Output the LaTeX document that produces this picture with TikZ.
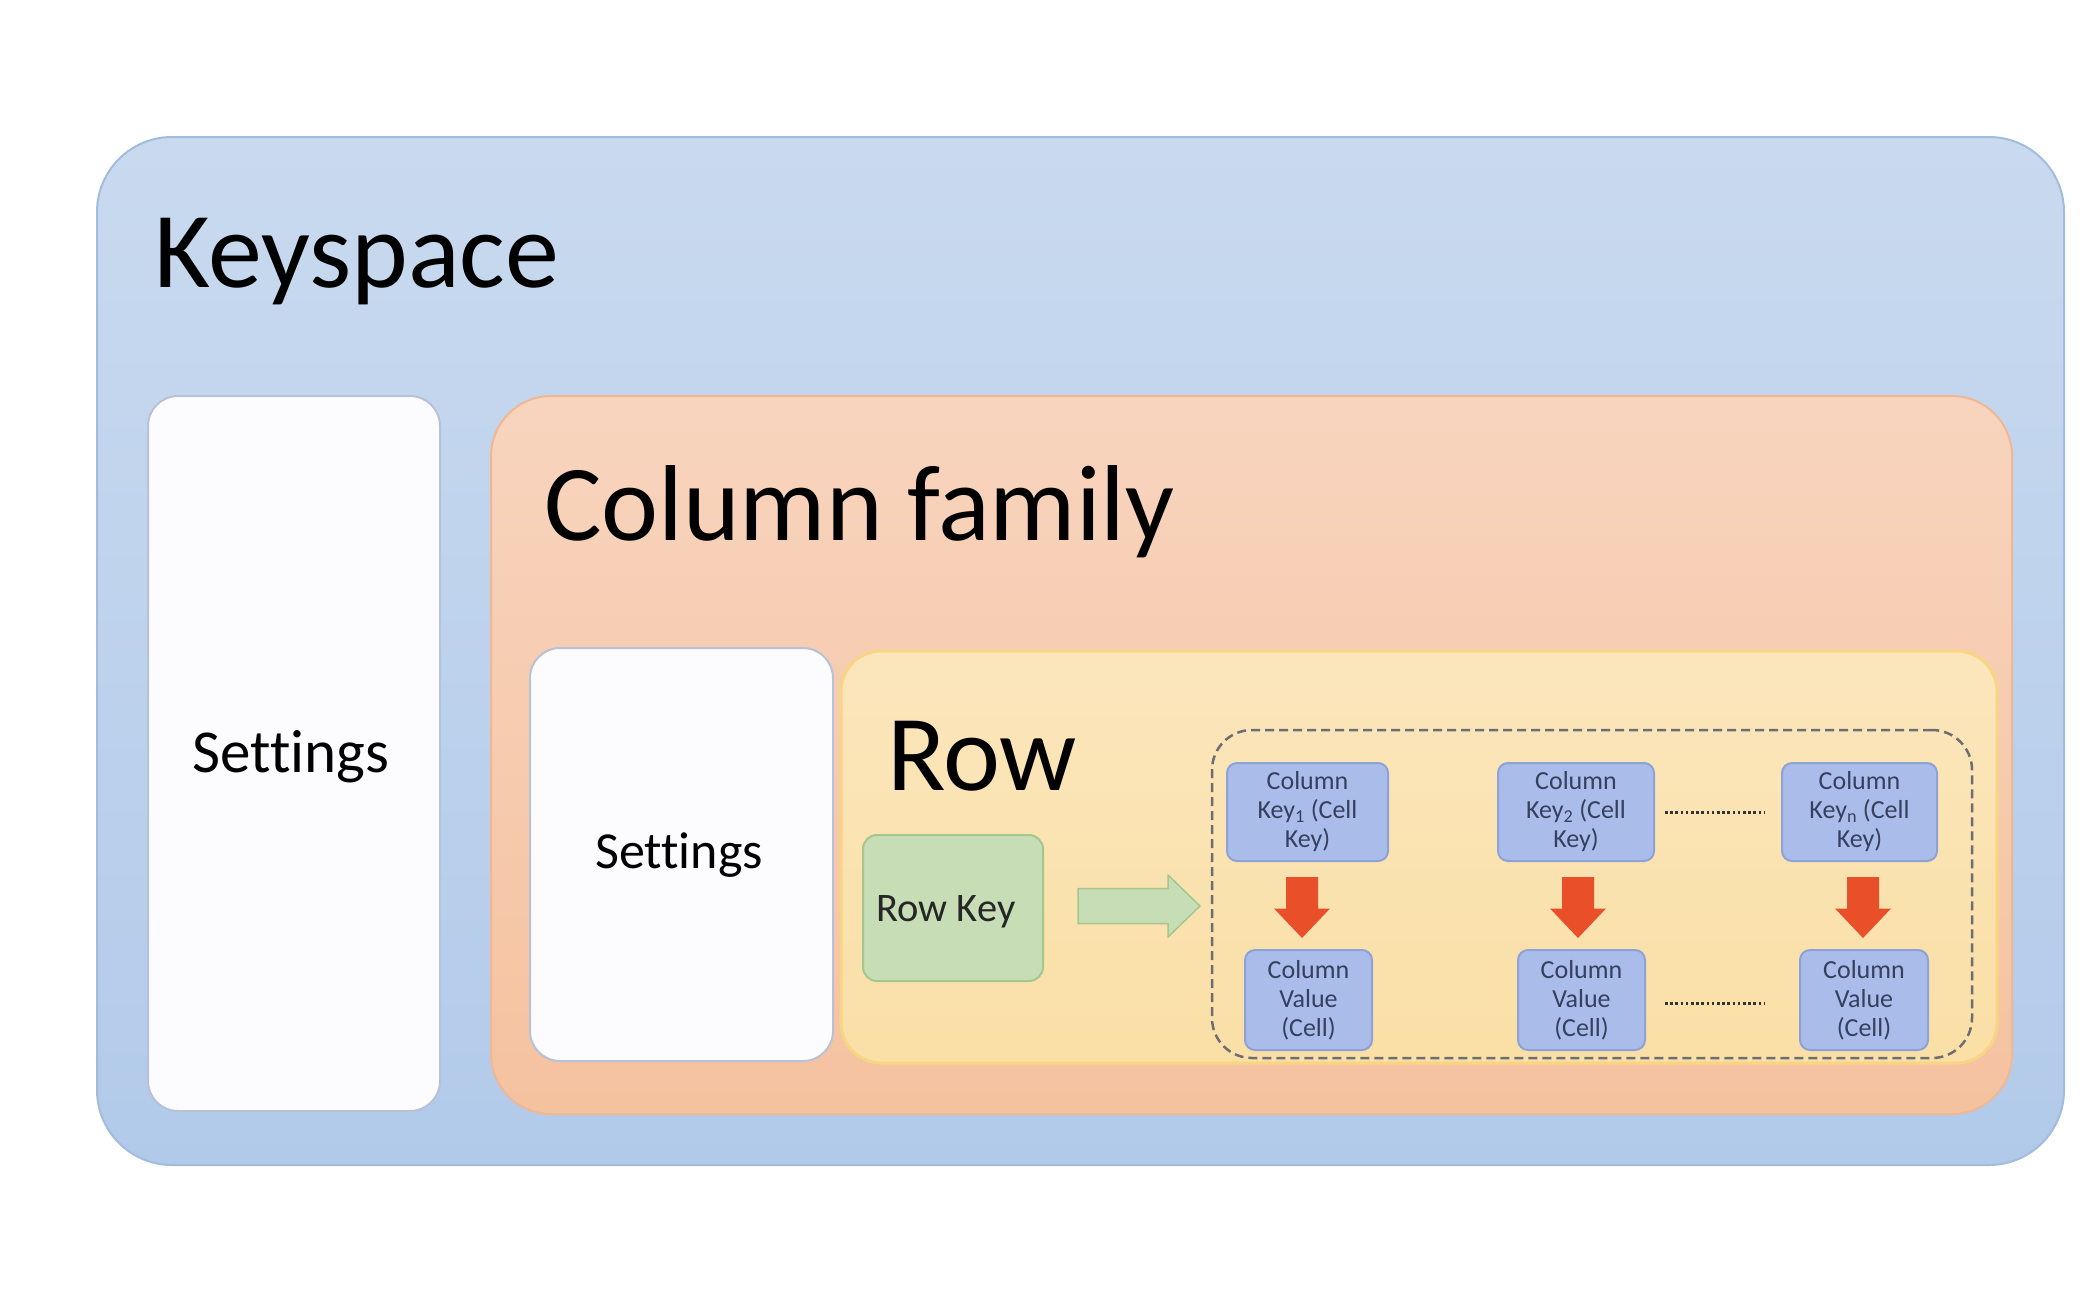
\documentclass[tikz,border=0pt]{standalone}
\usepackage{fontspec}
\setmainfont{Carlito}[Ligatures=CommonOff]
\definecolor{ksTop}{HTML}{C9DAEF}
\definecolor{ksBot}{HTML}{B2CAEA}
\definecolor{ksLine}{HTML}{A3BCDD}
\definecolor{cfTop}{HTML}{F8D4BE}
\definecolor{cfBot}{HTML}{F5C29F}
\definecolor{cfLine}{HTML}{EEB894}
\definecolor{rowTop}{HTML}{FBE6BC}
\definecolor{rowBot}{HTML}{FADFA6}
\definecolor{rowLine}{HTML}{F7D583}
\definecolor{setFill}{HTML}{FCFBFD}
\definecolor{setLine}{HTML}{B8C2D6}
\definecolor{rkFill}{HTML}{C6DDB6}
\definecolor{rkLine}{HTML}{A5C68D}
\definecolor{ckFill}{HTML}{AABCE9}
\definecolor{ckLine}{HTML}{8EA2D5}
\definecolor{ckText}{HTML}{34405E}
\definecolor{arrowred}{HTML}{E9502A}
\definecolor{dashgray}{HTML}{6E6E72}
\begin{document}
\begin{tikzpicture}[x=1pt,y=-1pt,
  every node/.style={inner sep=0pt, outer sep=0pt},
  box/.style={rounded corners=#1, line width=2pt},
  settingsbox/.style={box=30pt, draw=setLine, fill=setFill},
  colbox/.style={box=10pt, draw=ckLine, fill=ckFill, text=ckText, align=center,
     font=\fontsize{26}{29}\selectfont},
  title/.style={anchor=base west, font=\fontsize{108}{124}\selectfont},
  downarrow/.pic={\fill[arrowred] (-16,-30.5) -- (16,-30.5) -- (16,1) -- (28,1) -- (0,30.5) -- (-28,1) -- (-16,1) -- cycle;},
  rightarrow/.pic={\filldraw[fill=rkFill, draw=rkLine, line width=1.5pt, line join=round]
     (-61,-17.5) -- (29,-17.5) -- (29,-31) -- (61,0) -- (29,31) -- (29,17.5) -- (-61,17.5) -- cycle;},
  dotline/.style={line width=3pt, dash pattern=on 2.6pt off 2.6pt, draw=black!80}
]
\useasboundingbox[fill=white] (0,0) rectangle (2092,1294);

% Keyspace
\node[box=75pt, draw=ksLine, top color=ksTop, bottom color=ksBot,
      minimum width=1967pt, minimum height=1028pt] (ks) at (1080.5,651) {};
\node[title] (kstitle) at (154,287) {Keyspace};

% Keyspace settings
\node[settingsbox, minimum width=292pt, minimum height=715pt] (set1) at (294,753.5) {};
\node[font=\fontsize{61}{70}\selectfont] (set1t) at (291,757) {Settings};

% Column family
\node[box=60pt, draw=cfLine, top color=cfTop, bottom color=cfBot,
      minimum width=1521pt, minimum height=718pt] (cf) at (1251.5,755) {};
\node[title] (cftitle) at (544,540) {Column family};

% Column family settings
\node[settingsbox, minimum width=303pt, minimum height=413pt] (set2) at (681.5,854.5) {};
\node[font=\fontsize{52}{60}\selectfont] (set2t) at (679,855) {Settings};

% Row
\node[box=40pt, draw=rowLine, line width=3pt, top color=rowTop, bottom color=rowBot,
      minimum width=1156pt, minimum height=412pt] (row) at (1419,857) {};
\node[title] (rowtitle) at (887,790) {Row};

% Row key
\node[box=14pt, draw=rkLine, fill=rkFill, minimum width=180pt, minimum height=146pt] (rk) at (953,908) {};
\node[font=\fontsize{40.5}{46}\selectfont, text=black!85] (rkt) at (946,912) {Row Key};

% Green arrow
\coordinate (ga) at (1139,906);
\pic at (ga) {rightarrow};

% Dashed group
\node[rounded corners=40pt, draw=dashgray, line width=2.5pt, dash pattern=on 9pt off 5pt,
      minimum width=760pt, minimum height=328pt] (grp) at (1592,894) {};

% Column keys
\node[colbox, minimum width=161pt, minimum height=98pt] (k1) at (1307.5,812) {Column\\Key\textsubscript{1} (Cell\\Key)};
\node[colbox, minimum width=156pt, minimum height=98pt] (k2) at (1576,812) {Column\\Key\textsubscript{2} (Cell\\Key)};
\node[colbox, minimum width=155pt, minimum height=98pt] (kn) at (1859.5,812) {Column\\Key\textsubscript{n} (Cell\\Key)};

% Column values
\node[colbox, minimum width=127pt, minimum height=100pt] (v1) at (1308.5,1000) {Column\\Value\\(Cell)};
\node[colbox, minimum width=127pt, minimum height=100pt] (v2) at (1581.5,1000) {Column\\Value\\(Cell)};
\node[colbox, minimum width=128pt, minimum height=100pt] (vn) at (1864,1000) {Column\\Value\\(Cell)};

% Red arrows
\coordinate (a1) at (1302,907.5);
\coordinate (a2) at (1578,907.5);
\coordinate (a3) at (1863,907.5);
\pic at (a1) {downarrow};
\pic at (a2) {downarrow};
\pic at (a3) {downarrow};

% Dotted ellipses
\draw[dotline] ([xshift=11pt]k2.east) -- ([xshift=-18pt]kn.west);
\draw[dotline] ([xshift=20pt,yshift=-3pt]v2.east) -- ([xshift=-36pt,yshift=-3pt]vn.west);
\end{tikzpicture}
\end{document}
